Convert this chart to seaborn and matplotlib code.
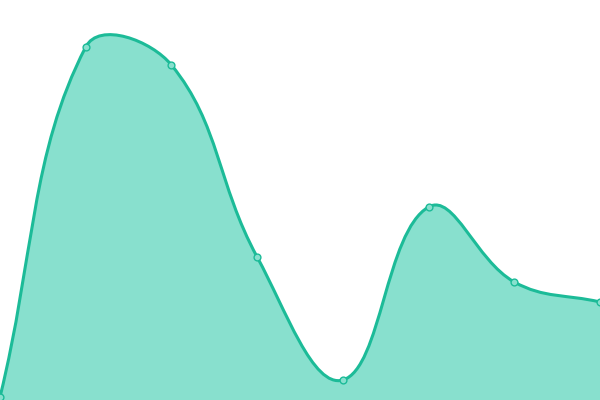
import numpy as np
import pandas as pd
import matplotlib
matplotlib.use("Agg")
import matplotlib.pyplot as plt
from matplotlib.path import Path
from matplotlib.patches import PathPatch
import seaborn as sns

categories = [0, 1, 2, 3, 4, 5, 6, 7]
values = [3, 353, 335, 143, 20, 193, 118, 98]

LINE = "#1cbb98"
FILL = "#88e0ce"

sns.set_theme(style="white")
fig = plt.figure(figsize=(6, 4), dpi=100)
ax = fig.add_axes([0, 0, 1, 1])
ax.set_xlim(0, 7)
ax.set_ylim(0, 400)
ax.axis("off")

df = pd.DataFrame({"x": categories, "y": values})

# spline (tension 0.4) control points computed in display space
pts = ax.transData.transform(np.column_stack([df["x"], df["y"]]).astype(float))
W, H = fig.get_size_inches() * fig.dpi
t = 0.4
n = len(pts)
prev_cp, next_cp = [], []
for i in range(n):
    cur = pts[i]
    prv = pts[i - 1] if i > 0 else cur
    nxt = pts[i + 1] if i < n - 1 else cur
    d01 = np.linalg.norm(cur - prv)
    d12 = np.linalg.norm(nxt - cur)
    s = d01 + d12
    s01 = d01 / s if s else 0
    s12 = d12 / s if s else 0
    a = cur - t * s01 * (nxt - prv)
    b = cur + t * s12 * (nxt - prv)
    a = np.clip(a, [0, 0], [W, H])
    b = np.clip(b, [0, 0], [W, H])
    prev_cp.append(a)
    next_cp.append(b)

verts = [pts[0]]
codes = [Path.MOVETO]
for i in range(n - 1):
    verts += [next_cp[i], prev_cp[i + 1], pts[i + 1]]
    codes += [Path.CURVE4] * 3
inv = ax.transData.inverted()
vdata = inv.transform(np.array(verts))

line_path = Path(vdata, codes)
fill_verts = np.vstack([vdata, [[categories[-1], 0], [categories[0], 0], vdata[0]]])
fill_codes = codes + [Path.LINETO, Path.LINETO, Path.CLOSEPOLY]
ax.add_patch(PathPatch(Path(fill_verts, fill_codes), facecolor=FILL, edgecolor="none", zorder=1))
ax.add_patch(PathPatch(line_path, facecolor="none", edgecolor=LINE, lw=2.2, zorder=2))

sns.scatterplot(data=df, x="x", y="y", ax=ax, s=24, color=FILL, edgecolor=LINE,
                linewidth=1.0, zorder=3, legend=False)
ax.set_xlim(0, 7)
ax.set_ylim(0, 400)
ax.axis("off")

fig.savefig("out.png", dpi=100)
